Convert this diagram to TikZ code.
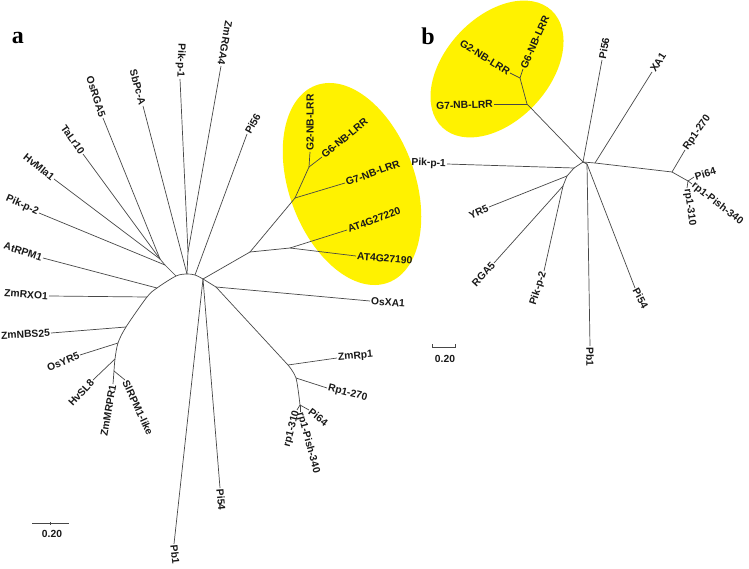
\documentclass[tikz,border=0pt]{standalone}
\usepackage{fontspec}
\setmainfont{Liberation Sans}
\newfontfamily\panelfont{Liberation Serif}
\begin{document}
\begin{tikzpicture}[x=1pt,y=-1pt,
  br/.style={draw=black!72, line width=0.7pt},
  lf/.style={font=\fontsize{10.3}{12}\selectfont\bfseries, inner sep=1pt, text=black!90},
  le/.style={lf, anchor=east},
  lw/.style={lf, anchor=west},
  panel/.style={font=\panelfont\fontsize{24}{24}\selectfont\bfseries, anchor=base, inner sep=0pt},
  hilite/.style={fill=yellow}]
\fill[white] (0,0) rectangle (749,569);
\useasboundingbox (0,0) rectangle (749,569);

% highlight ellipses
\fill[hilite, rotate around={-70:(352,184)}] (352,184) ellipse (105pt and 63pt);
\fill[hilite, rotate around={47:(497,69)}] (497,69) ellipse (80pt and 52pt);

% ---------------- tree a: internal nodes ----------------
\coordinate (a1) at (176,276);
\coordinate (a2) at (187,274);
\coordinate (a3) at (195,275);
\coordinate (a4) at (203,279);
\coordinate (a5) at (216,287);
\coordinate (n1) at (165,265);
\coordinate (n1a) at (160,259);
\coordinate (n2) at (188,252);
\coordinate (b1) at (157,288);
\coordinate (b2) at (147,297);
\coordinate (b3) at (126,327);
\coordinate (b4) at (118,343);
\coordinate (b5) at (115,359);
\coordinate (b6) at (114,371);
\coordinate (g0) at (250,252);
\coordinate (g1) at (290,248);
\coordinate (g2) at (295,198);
\coordinate (g3) at (309,167);
\coordinate (r1) at (288,365);
\coordinate (r2) at (296,378);
\coordinate (r3) at (300,405);
% tips
\coordinate (tZmRGA4) at (221,66);
\coordinate (tPikpa1) at (180,79);
\coordinate (tSbPcA) at (143,106);
\coordinate (tOsRGA5) at (103,118);
\coordinate (tTaLr10) at (83,154);
\coordinate (tHvMla1) at (54,179);
\coordinate (tPikpa2) at (39,213);
\coordinate (tAtRPM1) at (43,258);
\coordinate (tZmRXO1) at (49,296);
\coordinate (tZmNBS25) at (51,333);
\coordinate (tOsYR5) at (80,355);
\coordinate (tHvSL8) at (93,380);
\coordinate (tZmMRPR1) at (113,384);
\coordinate (tSlRPM1) at (125,380);
\coordinate (tPb1a) at (174,544);
\coordinate (tPi54a) at (220,488);
\coordinate (tPi56a) at (247,134);
\coordinate (tG2a) at (310,152);
\coordinate (tG6a) at (322,157);
\coordinate (tG7a) at (345,183);
\coordinate (tAT20) at (347,230);
\coordinate (tAT90) at (356,256);
\coordinate (tOsXA1) at (370,301);
\coordinate (tZmRp1) at (337,358);
\coordinate (tRp270a) at (327,388);
\coordinate (tPi64a) at (309,410);
\coordinate (tr310a) at (297,410);
\coordinate (trPisha) at (300,412);

% backbone arc
\draw[br] plot[smooth, tension=0.5] coordinates {(b6) (b5) (b4) (b3) (b2) (b1) (a1) (a2) (a3) (a4)};
\draw[br] (a4) -- (a5);
\draw[br] (a5) -- (r1);
\draw[br] plot[smooth, tension=0.5] coordinates {(r1) (r2) (r3)};

\foreach \u/\v in {n2/tZmRGA4, n2/tPikpa1, n2/a2, a2/tSbPcA, n1a/tOsRGA5, n1a/tTaLr10,
  n1a/tHvMla1, n1a/n1, n1/tPikpa2, n1/a1, b1/tAtRPM1, b2/tZmRXO1, b3/tZmNBS25,
  b4/tOsYR5, b5/tHvSL8, b6/tZmMRPR1, b6/tSlRPM1, a4/tPb1a, a4/tPi54a, a3/tPi56a,
  a4/g0, g0/g1, g0/g2, g2/g3, g3/tG2a, g3/tG6a, g2/tG7a, g1/tAT20, g1/tAT90,
  a5/tOsXA1, r1/tZmRp1, r2/tRp270a, r3/tPi64a, r3/tr310a, r3/trPisha}
  \draw[br] (\u) -- (\v);

% labels a
\node[le, rotate=-100] (lZmRGA4) at (tZmRGA4) {ZmRGA4};
\node[le, rotate=-92] (lPikpa1) at (tPikpa1) {Pik-p-1};
\node[le, rotate=-75] (lSbPcA) at (tSbPcA) {SbPc-A};
\node[le, rotate=-72] (lOsRGA5) at (tOsRGA5) {OsRGA5};
\node[le, rotate=-55] (lTaLr10) at (tTaLr10) {TaLr10};
\node[le, rotate=-39] (lHvMla1) at (tHvMla1) {HvMla1};
\node[le, rotate=-24] (lPikpa2) at (tPikpa2) {Pik-p-2};
\node[le, rotate=-18] (lAtRPM1) at (tAtRPM1) {AtRPM1};
\node[le, rotate=-4] (lZmRXO1) at (tZmRXO1) {ZmRXO1};
\node[le, rotate=3] (lZmNBS25) at (tZmNBS25) {ZmNBS25};
\node[le, rotate=22] (lOsYR5) at (tOsYR5) {OsYR5};
\node[le, rotate=47] (lHvSL8) at (tHvSL8) {HvSL8};
\node[le, rotate=80] (lZmMRPR1) at (tZmMRPR1) {ZmMRPR1};
\node[lw, rotate=-65] (lSlRPM1) at (tSlRPM1) {SlRPM1-like};
\node[lw, rotate=-84] (lPb1a) at (tPb1a) {Pb1};
\node[lw, rotate=-85] (lPi54a) at (tPi54a) {Pi54};
\node[lw, rotate=61] (lPi56a) at (tPi56a) {Pi56};
\node[lw, rotate=90] (lG2a) at (tG2a) {G2-NB-LRR};
\node[lw, rotate=40] (lG6a) at (tG6a) {G6-NB-LRR};
\node[lw, rotate=20] (lG7a) at (tG7a) {G7-NB-LRR};
\node[lw, rotate=20] (lAT20) at (tAT20) {AT4G27220};
\node[lw, rotate=-5] (lAT90) at (tAT90) {AT4G27190};
\node[lw, rotate=-4] (lOsXA1) at (tOsXA1) {OsXA1};
\node[lw, rotate=5] (lZmRp1) at (tZmRp1) {ZmRp1};
\node[lw, rotate=-14] (lRp270a) at (tRp270a) {Rp1-270};
\node[lw, rotate=-38] (lPi64a) at (tPi64a) {Pi64};
\node[le, rotate=75] (lr310a) at (tr310a) {rp1-310};
\node[lw, rotate=-75] (lrPisha) at (trPisha) {rp1-Pish-340};

% scale bar a
\coordinate (sa1) at (32,523);
\coordinate (sa2) at (69,523);
\coordinate (sam) at (50.5,523);
\draw[br] (sa1) -- (sa2);
\draw[br] ([yshift=-1.5pt]sam) -- ([yshift=1.5pt]sam);
\node[lf] (scalea) at (52,534) {0.20};

% ---------------- tree b ----------------
\coordinate (c0) at (583,162);
\coordinate (c1) at (595,163);
\coordinate (c2) at (587,164);
\coordinate (c3) at (574,168);
\coordinate (c4) at (567,176);
\coordinate (c5) at (563,186);
\coordinate (gb) at (527,104);
\coordinate (g6) at (520,78);
\coordinate (rb) at (672,172);
\coordinate (rc) at (688,181);

\coordinate (tPi56b) at (602,60);
\coordinate (tXA1) at (652,72);
\coordinate (tG7b) at (494,104);
\coordinate (tG2b) at (510,73);
\coordinate (tG6b) at (523,69);
\coordinate (tPikp1b) at (447,164);
\coordinate (tRp270b) at (685,150);
\coordinate (tPi64b) at (694,177);
\coordinate (trPishb) at (692,184);
\coordinate (tr310b) at (687,188);
\coordinate (tYR5) at (489,207);
\coordinate (tRGA5) at (494,263);
\coordinate (tPikp2b) at (544,271);
\coordinate (tPb1b) at (590,346);
\coordinate (tPi54b) at (635,288);

\foreach \u/\v in {c0/gb, gb/tG7b, gb/g6, g6/tG2b, g6/tG6b, c0/tPi56b, c0/c1, c1/tXA1,
  c1/rb, rb/tRp270b, rb/rc, rc/tPi64b, rc/trPishb, rc/tr310b, c0/c2, c2/tPb1b,
  c2/tPi54b, c0/c3, c3/tPikp1b, c3/c4, c4/tYR5, c4/c5, c5/tRGA5, c5/tPikp2b}
  \draw[br] (\u) -- (\v);

\node[lw, rotate=80] (lPi56b) at (tPi56b) {Pi56};
\node[lw, rotate=57] (lXA1) at (tXA1) {XA1};
\node[le, rotate=2] (lG7b) at (tG7b) {G7-NB-LRR};
\node[le, rotate=-32] (lG2b) at (tG2b) {G2-NB-LRR};
\node[lw, rotate=66] (lG6b) at (tG6b) {G6-NB-LRR};
\node[le, rotate=-2] (lPikp1b) at (tPikp1b) {Pik-p-1};
\node[lw, rotate=55] (lRp270b) at (tRp270b) {Rp1-270};
\node[lw, rotate=17] (lPi64b) at (tPi64b) {Pi64};
\node[lw, rotate=-38] (lrPishb) at (trPishb) {rp1-Pish-340};
\node[lw, rotate=-82] (lr310b) at (tr310b) {rp1-310};
\node[le, rotate=25] (lYR5) at (tYR5) {YR5};
\node[le, rotate=47] (lRGA5) at (tRGA5) {RGA5};
\node[le, rotate=72] (lPikp2b) at (tPikp2b) {Pik-p-2};
\node[lw, rotate=-90] (lPb1b) at (tPb1b) {Pb1};
\node[lw, rotate=-62] (lPi54b) at (tPi54b) {Pi54};

% scale bar b
\coordinate (sb1) at (432,347);
\coordinate (sb2) at (455,347);
\draw[br] ([yshift=3pt]sb1) -- (sb1) -- (sb2) -- ([yshift=3pt]sb2);
\node[lf] (scaleb) at (445,359) {0.20};

% panel letters
\node[panel] (pa) at (18,44) {a};
\node[panel] (pb) at (428,45) {b};
\end{tikzpicture}
\end{document}
